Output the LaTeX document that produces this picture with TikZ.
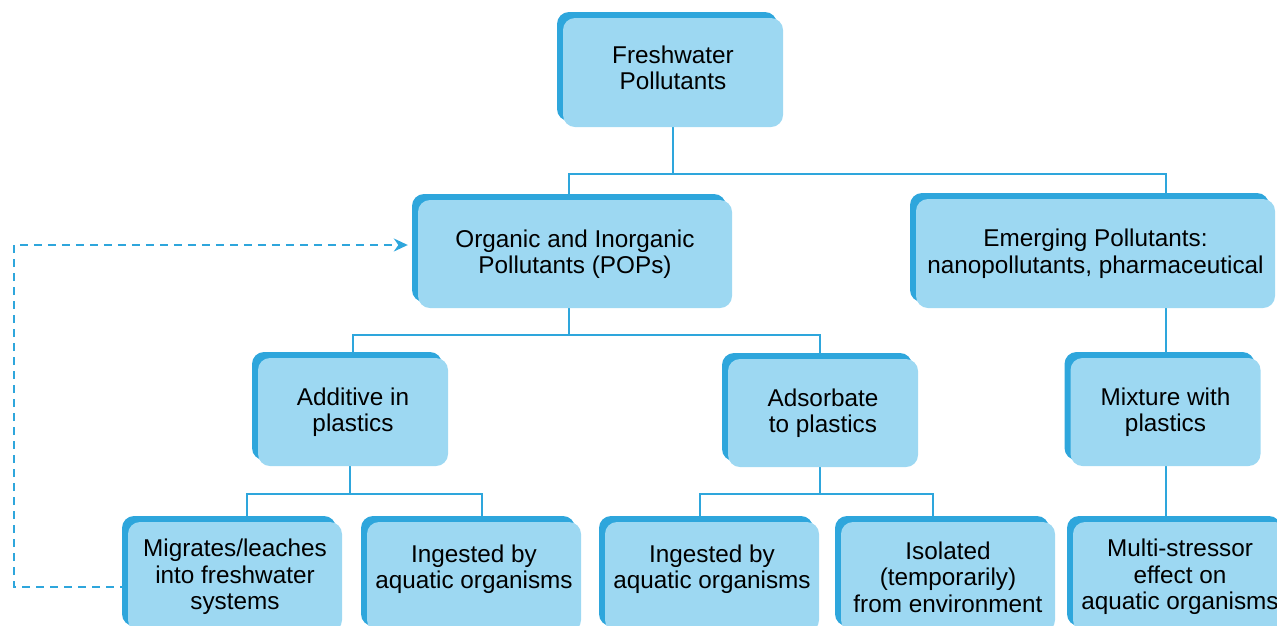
\documentclass[tikz,border=0pt]{standalone}
\usepackage{fontspec}
\setmainfont{Liberation Sans}
\usepackage{xcolor}
\usepackage{tikz}
\usetikzlibrary{positioning,arrows.meta,shadows,backgrounds,calc}
\definecolor{boxfill}{RGB}{157,216,242}
\definecolor{boxedge}{RGB}{46,166,220}
\tikzset{
  pbox/.style={rectangle,rounded corners=12pt,fill=boxfill,
               minimum width=190pt,minimum height=108pt,
               inner sep=2pt,align=center,
               font=\fontsize{24.3}{26.5}\selectfont,
               general shadow={fill=boxedge,shadow xshift=-6pt,shadow yshift=6pt}},
  leaf/.style={pbox,minimum width=214pt,minimum height=110pt},
  link/.style={draw=boxedge,line width=2pt},
  loopback/.style={draw=boxedge,line width=1.6pt,dash pattern=on 8pt off 6pt,
                   -{Stealth[length=14pt,width=13pt]}},
}
\newcommand{\lift}{\\[-6pt]\mbox{}}

\begin{document}
\begin{tikzpicture}[x=1pt,y=-1pt]
\useasboundingbox (0,0) rectangle (1277,625);
\clip (0,0) rectangle (1277,625);
% first two levels
\node[pbox, minimum width=220pt, minimum height=109pt] (fresh) at (673,72.5) {Freshwater\\Pollutants\\[-17pt]\mbox{}};
\node[pbox, minimum width=314pt] (organic) at (575,254) {Organic and Inorganic\\Pollutants (POPs)};
\node[pbox, minimum width=359pt, minimum height=109pt] (emerging) at (1095.5,253.5) {Emerging Pollutants:\\nanopollutants, pharmaceutical};
% plastics level
\node[pbox] (additive) at (353,412) {Additive in\\plastics};
\node[pbox] (adsorb) at (823,413) {Adsorbate\\to plastics};
\node[pbox] (mixture) at (1165.5,412) {Mixture with\\plastics};
% effects
\node[leaf] (migrates) at (235,577) {Migrates/leaches\\into freshwater\\systems};
\node[leaf] (ingestA) at (474,577) {Ingested by\\aquatic organisms\lift};
\node[leaf] (ingestB) at (712,577) {Ingested by\\aquatic organisms\lift};
\node[leaf] (isolated) at (948,577) {Isolated\\(temporarily)\\from environment};
\node[leaf] (multi) at (1180,577) {Multi-stressor\\effect on\\aquatic organisms};

\begin{scope}[on background layer]
\draw[link] (fresh.south) -- ++(0,47) coordinate (busA);
\draw[link] (busA) -| ([xshift=-6pt]organic.north);
\draw[link] (busA) -| (emerging.north -| mixture.north);
\draw[link] ([xshift=-6pt]organic.south) -- ++(0,27) coordinate (busB);
\draw[link] (busB) -| (additive.north);
\draw[link] (busB) -| ([xshift=-3pt]adsorb.north);
\draw[link] (mixture.north |- emerging.south) -- (mixture.north);
\draw[link] (mixture.south) -- (multi.north -| mixture.south);
\draw[link] ([xshift=-3pt]additive.south) -- ++(0,28) coordinate (busC);
\draw[link] (busC) -| ([xshift=12pt]migrates.north);
\draw[link] (busC) -| ([xshift=8pt]ingestA.north);
\draw[link] ([xshift=-3pt]adsorb.south) -- ++(0,27) coordinate (busD);
\draw[link] (busD) -| ([xshift=-12pt]ingestB.north);
\draw[link] (busD) -| ([xshift=-15pt]isolated.north);
% dashed return arrow
\draw[loopback] ([yshift=-10pt]migrates.west) -- ++(-114,0) |- ([xshift=-10pt,yshift=9pt]organic.west);
\end{scope}
\end{tikzpicture}
\end{document}
